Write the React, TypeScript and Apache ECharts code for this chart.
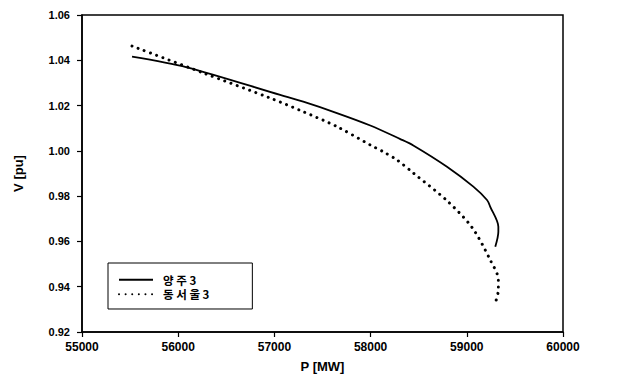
import React, { useEffect, useRef } from "react";
import * as echarts from "echarts";

const seriesNames = ["양 주 3", "동 서 울 3"];

// 양주 3 (solid)
const yangjuP = [55520, 56090, 57060, 57300, 57650, 57997, 58309, 58444, 58794, 59068, 59210, 59244, 59328, 59328, 59296];
const yangjuV = [1.0416, 1.0369, 1.0247, 1.0217, 1.0167, 1.0112, 1.0052, 1.0024, 0.993, 0.9842, 0.9783, 0.9753, 0.9665, 0.9643, 0.9577];

// 동서울 3 (dotted)
const dongseoulP = [55520, 56261, 56957, 57300, 57651, 57997, 58132, 58274, 58444, 58794, 59054, 59244, 59328, 59328, 59296];
const dongseoulV = [1.0463, 1.0344, 1.0233, 1.0173, 1.0107, 1.0026, 0.9996, 0.996, 0.9902, 0.978, 0.9662, 0.9518, 0.943, 0.9386, 0.9328];

const xMin = 55000;
const xMax = 60000;
const xStep = 1000;
const yMin = 0.92;
const yMax = 1.06;
const yStep = 0.02;

const FONT = "Liberation Sans, Arial, sans-serif";
const KFONT = "Noto Sans CJK KR, Liberation Sans, sans-serif";

export default function App() {
  const ref = useRef<HTMLDivElement>(null);
  useEffect(() => {
    if (!ref.current) return;
    const chart = echarts.init(ref.current, undefined, { renderer: "svg" });
    const zip = (a: number[], b: number[]) => a.map((v, i) => [v, b[i]]);
    chart.setOption({
      animation: false,
      backgroundColor: "#fff",
      grid: {
        left: 82,
        right: 72,
        top: 15,
        bottom: 51,
        show: true,
        borderColor: "#000",
        borderWidth: 1.5,
        backgroundColor: "transparent",
      },
      legend: {
        orient: "vertical",
        left: 108,
        top: 263,
        backgroundColor: "#fff",
        borderColor: "#000",
        borderWidth: 1,
        borderRadius: 0,
        padding: [11, 43, 9, 10],
        itemGap: 3,
        itemWidth: 34,
        itemHeight: 10,
        itemStyle: { opacity: 0 },
        textStyle: {
          fontFamily: KFONT,
          fontWeight: "bold",
          fontSize: 11.5,
          lineHeight: 11,
          color: "#000",
          padding: [0, 0, 0, 5],
        },
        data: seriesNames,
      },
      xAxis: {
        type: "value",
        min: xMin,
        max: xMax,
        interval: xStep,
        name: "P [MW]",
        nameLocation: "middle",
        nameGap: 28,
        nameTextStyle: { fontFamily: FONT, fontWeight: "bold", fontSize: 13, color: "#000" },
        axisLine: { show: true, lineStyle: { color: "#000", width: 1.5 } },
        axisTick: { show: true, length: 5, inside: false, lineStyle: { color: "#000", width: 1.2 } },
        axisLabel: {
          fontFamily: FONT,
          fontWeight: "bold",
          fontSize: 12,
          color: "#000",
          margin: 9,
          formatter: (v: number) => String(v),
        },
        splitLine: { show: false },
      },
      yAxis: {
        type: "value",
        min: yMin,
        max: yMax,
        interval: yStep,
        name: "V [pu]",
        nameLocation: "middle",
        nameGap: 57,
        nameRotate: 90,
        nameTextStyle: { fontFamily: FONT, fontWeight: "bold", fontSize: 13, color: "#000" },
        axisLine: { show: true, lineStyle: { color: "#000", width: 1.5 } },
        axisTick: { show: true, length: 5, inside: false, lineStyle: { color: "#000", width: 1.2 } },
        axisLabel: {
          fontFamily: FONT,
          fontWeight: "bold",
          fontSize: 11,
          color: "#000",
          margin: 12,
          formatter: (v: number) => v.toFixed(2),
        },
        splitLine: { show: false },
      },
      series: [
        {
          name: seriesNames[0],
          type: "line",
          data: zip(yangjuP, yangjuV),
          symbol: "none",
          smooth: 0.3,
          itemStyle: { color: "#000" },
          lineStyle: { color: "#000", width: 1.8, type: "solid" },
        },
        {
          name: seriesNames[1],
          type: "line",
          data: zip(dongseoulP, dongseoulV),
          symbol: "none",
          smooth: 0.3,
          itemStyle: { color: "#000" },
          lineStyle: { color: "#000", width: 3, type: [0.01, 6.6], cap: "round" },
        },
      ],
    });
    return () => chart.dispose();
  }, []);
  return <div ref={ref} style={{ width: 635, height: 383, position: "absolute", left: 0, top: 0 }} />;
}
